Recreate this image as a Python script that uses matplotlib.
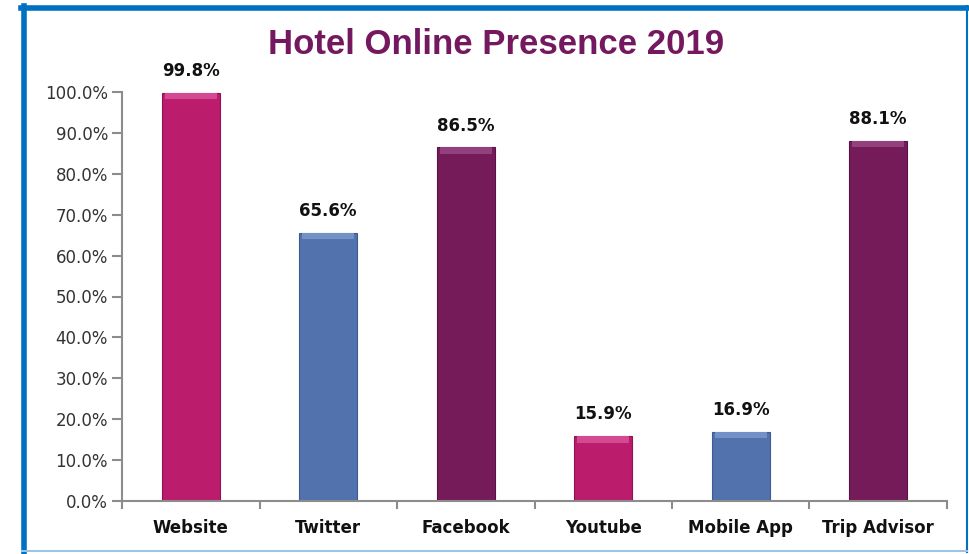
import numpy as np
import matplotlib.pyplot as plt
from matplotlib.lines import Line2D

# Daten
kategorien = ['Website', 'Twitter', 'Facebook', 'Youtube', 'Mobile App', 'Trip Advisor']
werte = [99.8, 65.6, 86.5, 15.9, 16.9, 88.1]
farben = ['#BC1C6C', '#5272AE', '#761B5A', '#BC1C6C', '#5272AE', '#761B5A']
hell = ['#D44A90', '#7391C6', '#93417C', '#D44A90', '#7391C6', '#93417C']
rand = ['#8E1450', '#3E5A8E', '#5A1244', '#8E1450', '#3E5A8E', '#5A1244']
yticks = np.arange(0, 101, 10)

fig = plt.figure(figsize=(9.69, 5.54), dpi=100)
fig.patch.set_facecolor('white')

# blauer Rahmen (oben/links dick, rechts/unten duenn)
W, H = 969, 554
fig.add_artist(Line2D([21/W, 967/W], [1-7.5/H, 1-7.5/H], color='#0070C0', lw=4, transform=fig.transFigure))
fig.add_artist(Line2D([23.5/W, 23.5/W], [1-6/H, 1-552/H], color='#0070C0', lw=4, transform=fig.transFigure))
fig.add_artist(Line2D([966.5/W, 966.5/W], [1-6/H, 1-552/H], color='#0070C0', lw=1.5, transform=fig.transFigure))
fig.add_artist(Line2D([22/W, 967/W], [1-551/H, 1-551/H], color='#9DC3E6', lw=1.5, transform=fig.transFigure))

ax = fig.add_axes([122/W, 1-501/H, 825/W, (501-92)/H])
x = np.arange(len(kategorien))
ax.bar(x, werte, width=0.42, color=farben, edgecolor=rand, linewidth=0.8, zorder=2)
# Abschraegung oben
for xi, w, c in zip(x, werte, hell):
    ax.bar(xi, 1.6, bottom=w-1.6, width=0.38, color=c, edgecolor='none', zorder=3)

for xi, w in zip(x, werte):
    ax.annotate(f'{w:.1f}%', (xi, w), xytext=(0, 9), textcoords='offset points',
                ha='center', va='bottom', fontsize=12, fontweight='bold', color='#111111')

ax.set_xlim(-0.5, len(kategorien)-0.5)
ax.set_ylim(0, 100)
ax.set_yticks(yticks)
ax.set_yticklabels([f'{t:.1f}%' for t in yticks], fontsize=12, color='#333333')
ax.set_xticks(x)
ax.set_xticklabels(kategorien, fontsize=12, fontweight='bold', color='#111111')
ax.tick_params(axis='x', length=0, pad=13)
ax.set_xticks(np.arange(len(kategorien)+1)-0.5, minor=True)
ax.tick_params(axis='x', which='minor', length=6, color='#8C8C8C', width=1.5)
ax.tick_params(axis='y', length=7, color='#8C8C8C', width=1.5, pad=3)

for s in ['top', 'right']:
    ax.spines[s].set_visible(False)
for s in ['left', 'bottom']:
    ax.spines[s].set_color('#8C8C8C')
    ax.spines[s].set_linewidth(1.5)

fig.text(496/W, 1-45/H, 'Hotel Online Presence 2019', ha='center', va='center',
         fontsize=25, fontweight='bold', family='Liberation Sans', color='#74195F')

fig.savefig('out.png', dpi=100)
